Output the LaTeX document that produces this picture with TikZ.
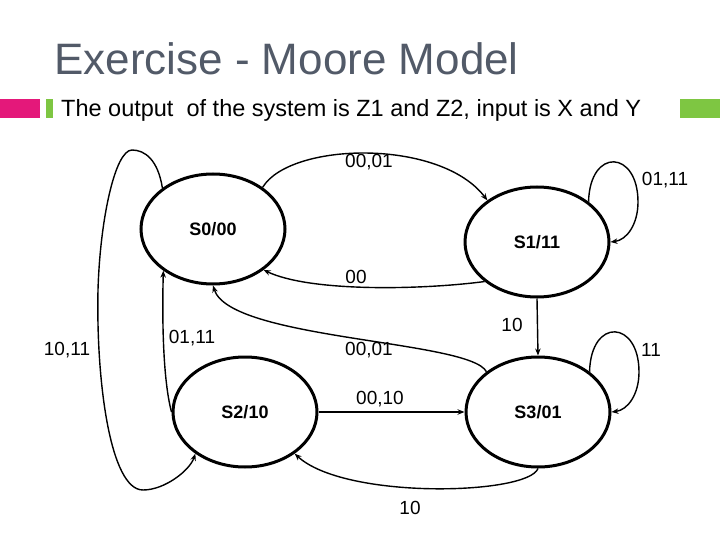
\documentclass[tikz,border=0pt]{standalone}
\usepackage{fontspec}
\setmainfont{Liberation Sans}
\usetikzlibrary{arrows.meta, shapes.geometric}
\definecolor{titleGray}{RGB}{82,90,104}
\definecolor{barPink}{RGB}{228,24,122}
\definecolor{barGreen}{RGB}{126,198,66}

\begin{document}
\begin{tikzpicture}[x=1pt, y=-1pt,
    mstate/.style={ellipse, draw=black, line width=3pt, minimum width=144pt,
      minimum height=110pt, inner sep=0pt, font=\fontsize{18}{20}\selectfont\bfseries},
    lbl/.style={font=\fontsize{19}{21}\selectfont, inner sep=0pt},
    trans/.style={line width=1.4pt, -{Stealth[length=7pt, width=5.5pt]}}]
    \useasboundingbox (0,0) rectangle (720,540);
    % heading
    \node[anchor=base west, inner sep=0pt, text=titleGray,
      font=\fontsize{44}{48}\selectfont] (title) at (54,75) {Exercise - Moore Model};
    \fill[barPink] (0,99) rectangle (40,118);
    \fill[barGreen] (46,99) rectangle (53,118);
    \fill[barGreen] (680,99) rectangle (720,118);
    \node[anchor=base west, inner sep=0pt, font=\fontsize{23.5}{26}\selectfont]
      (subtitle) at (61,117) {The output\ \ of the system is Z1 and Z2, input is X and Y};
    % states
    \node[mstate] (S0) at (213,229) {S0/00};
    \node[mstate] (S1) at (537,242) {S1/11};
    \node[mstate] (S2) at (245,412) {S2/10};
    \node[mstate] (S3) at (538,412) {S3/01};
    % transitions
    \draw[trans] (S0.40) .. controls (290,142) and (440,138) .. (S1.140);
    \draw[trans] (S1.38) .. controls (590,147) and (638,150) .. (638,202)
      .. controls (638,224) and (627,240) .. (S1.east);
    \draw[trans] (S1.217) .. controls (420,290) and (310,292) .. (S0.321);
    \draw[trans] (S1.south) -- (S3.north);
    \draw[trans] (S3.142) .. controls (470,340) and (230,340) .. (S0.south);
    \draw[trans] (S2.west) .. controls (163,380) and (162,320) .. (S0.220);
    \draw[trans] (S0.141) .. controls (158,160) and (145,150) .. (132,150)
      .. controls (115,150) and (100,220) .. (98,290)
      .. controls (96,380) and (110,490) .. (143,490)
      .. controls (165,490) and (190,470) .. (S2.220);
    \draw[trans] (S2.east) -- (S3.west);
    \draw[trans] (S3.south) .. controls (528,495) and (345,500) .. (S2.320);
    \draw[trans] (S3.38) .. controls (591,317) and (639,320) .. (639,372)
      .. controls (639,394) and (628,410) .. (S3.east);
    % labels
    \node[lbl] (l01) at (369,162) {00,01};
    \node[lbl] (l02) at (665,180) {01,11};
    \node[lbl] (l03) at (356,277) {00};
    \node[lbl] (l04) at (512,325) {10};
    \node[lbl] (l05) at (369,350) {00,01};
    \node[lbl] (l06) at (192,338) {01,11};
    \node[lbl] (l07) at (67,350) {10,11};
    \node[lbl] (l08) at (380,399) {00,10};
    \node[lbl] (l09) at (651,350) {11};
    \node[lbl] (l10) at (410,508) {10};
\end{tikzpicture}
\end{document}
